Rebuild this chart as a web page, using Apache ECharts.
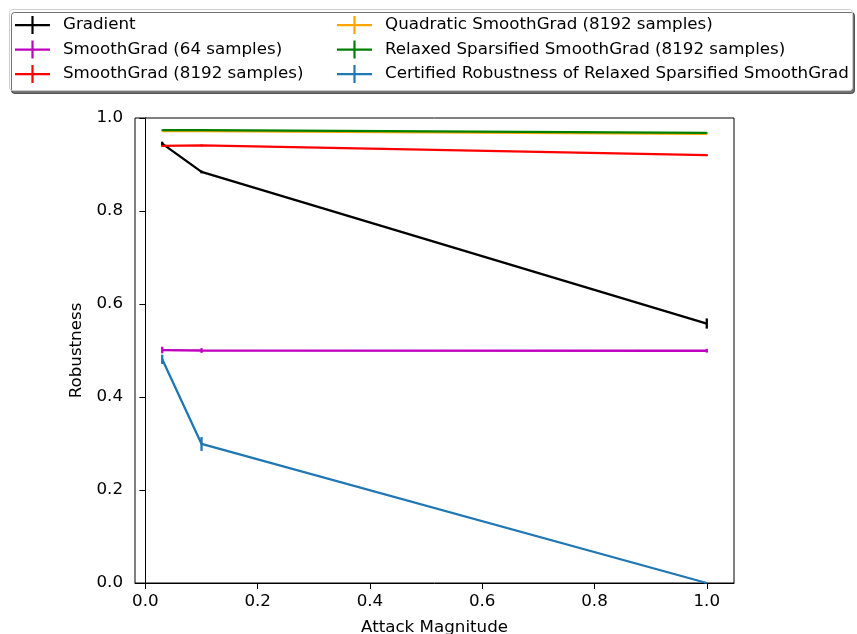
<!DOCTYPE html>
<html>
<head>
<meta charset="utf-8">
<script src="https://cdn.jsdelivr.net/npm/echarts@6/dist/echarts.min.js"></script>
<style>
html,body{margin:0;padding:0;background:#fff;}
#chart{width:857px;height:634px;}
</style>
</head>
<body>
<div id="chart"></div>
<script>
// ---- data ----
const attackMagnitudes = [0.03, 0.1, 1.0];
const seriesNames = [
  'Gradient',
  'SmoothGrad (64 samples)',
  'SmoothGrad (8192 samples)',
  'Quadratic SmoothGrad (8192 samples)',
  'Relaxed Sparsified SmoothGrad (8192 samples)',
  'Certified Robustness of Relaxed Sparsified SmoothGrad'
];
const gradient = [0.945, 0.884, 0.558];
const gradientErr = [0.004, 0.003, 0.011];
const smoothGrad64 = [0.501, 0.500, 0.4995];
const smoothGrad64Err = [0.007, 0.005, 0.004];
const smoothGrad8192 = [0.940, 0.941, 0.920];
const smoothGrad8192Err = [0.002, 0.002, 0.002];
const quadraticSG = [0.972, 0.972, 0.966];
const quadraticSGErr = [0.001, 0.001, 0.001];
const relaxedSSG = [0.974, 0.974, 0.968];
const relaxedSSGErr = [0.001, 0.001, 0.001];
const certifiedRSSG = [0.481, 0.299, 0.0];
const certifiedRSSGErr = [0.010, 0.015, 0.0];
const xTicks = [0, 0.2, 0.4, 0.6, 0.8, 1.0];

const values = [gradient, smoothGrad64, smoothGrad8192, quadraticSG, relaxedSSG, certifiedRSSG];
const errors = [gradientErr, smoothGrad64Err, smoothGrad8192Err, quadraticSGErr, relaxedSSGErr, certifiedRSSGErr];
const colors = ['#000000', '#bf00bf', '#ff0000', '#ffa500', '#008000', '#1f77b4'];

const FONT = 'DejaVu Sans';
const FS = 16.7;

const series = [];
values.forEach((vals, k) => {
  series.push({
    name: seriesNames[k],
    type: 'line',
    data: attackMagnitudes.map((x, i) => [x, vals[i]]),
    showSymbol: false,
    symbol: 'none',
    lineStyle: {color: colors[k], width: 2.3},
    itemStyle: {color: colors[k]},
    z: 2 + k
  });
  series.push({
    name: 'err' + k,
    type: 'custom',
    data: attackMagnitudes.map((x, i) => [x, vals[i], errors[k][i]]),
    encode: {x: 0, y: 1},
    z: 2 + k,
    renderItem: function (params, api) {
      const x = api.value(0), y = api.value(1), e = api.value(2);
      if (!e) return null;
      const p1 = api.coord([x, y - e]);
      const p2 = api.coord([x, y + e]);
      return {
        type: 'line',
        shape: {x1: p1[0], y1: p1[1], x2: p2[0], y2: p2[1]},
        style: {stroke: colors[k], lineWidth: 2.3}
      };
    }
  });
});

const legendIcon = 'path://M0,8h35v2.2h-35z M16.4,0h2.2v18h-2.2z';
const legendCommon = {
  orient: 'vertical',
  top: 16,
  itemWidth: 35,
  itemHeight: 18,
  itemGap: 6.5,
  icon: legendIcon,
  padding: 0,
  selectedMode: false,
  textStyle: {fontFamily: FONT, fontSize: FS, color: '#000', lineHeight: 18, padding: [0, 0, 0, 8]}
};

const option = {
  animation: false,
  backgroundColor: '#fff',
  textStyle: {fontFamily: FONT},
  graphic: [{
    type: 'rect',
    z: -10,
    shape: {x: 9.5, y: 9.5, width: 843, height: 81, r: 3},
    style: {fill: '#fff', stroke: '#cccccc', lineWidth: 1,
            shadowColor: 'rgba(0,0,0,0.55)', shadowOffsetX: 2, shadowOffsetY: 3, shadowBlur: 0}
  }],
  legend: [
    Object.assign({}, legendCommon, {left: 15, data: seriesNames.slice(0, 3)}),
    Object.assign({}, legendCommon, {left: 337, data: seriesNames.slice(3, 6)})
  ],
  grid: {left: 135, right: 123, top: 118, bottom: 51, show: true, borderColor: '#000', borderWidth: 1,
         backgroundColor: 'transparent', containLabel: false, outerBoundsMode: 'none'},
  xAxis: {
    type: 'value',
    min: -0.0185,
    max: 1.0485,
    name: 'Attack Magnitude',
    nameLocation: 'middle',
    nameGap: 36,
    nameTextStyle: {fontFamily: FONT, fontSize: FS, color: '#000'},
    axisLine: {show: true, lineStyle: {color: '#000', width: 1}},
    axisTick: {show: true, length: 6, lineStyle: {color: '#000', width: 1}, customValues: xTicks},
    axisLabel: {fontFamily: FONT, fontSize: FS, color: '#000', margin: 10, customValues: xTicks,
                formatter: v => v.toFixed(1)},
    splitLine: {show: false}
  },
  yAxis: {
    type: 'value',
    min: 0,
    max: 1,
    interval: 0.2,
    name: 'Robustness',
    nameLocation: 'middle',
    nameGap: 41,
    nameTextStyle: {fontFamily: FONT, fontSize: FS, color: '#000'},
    axisLine: {show: true, lineStyle: {color: '#000', width: 1}},
    axisTick: {show: true, length: 6, lineStyle: {color: '#000', width: 1}},
    axisLabel: {fontFamily: FONT, fontSize: FS, color: '#000', margin: 12, formatter: v => v.toFixed(1)},
    splitLine: {show: false}
  },
  series: series
};

const chart = echarts.init(document.getElementById('chart'), null, {renderer: 'canvas'});
chart.setOption(option);
</script>
</body>
</html>
